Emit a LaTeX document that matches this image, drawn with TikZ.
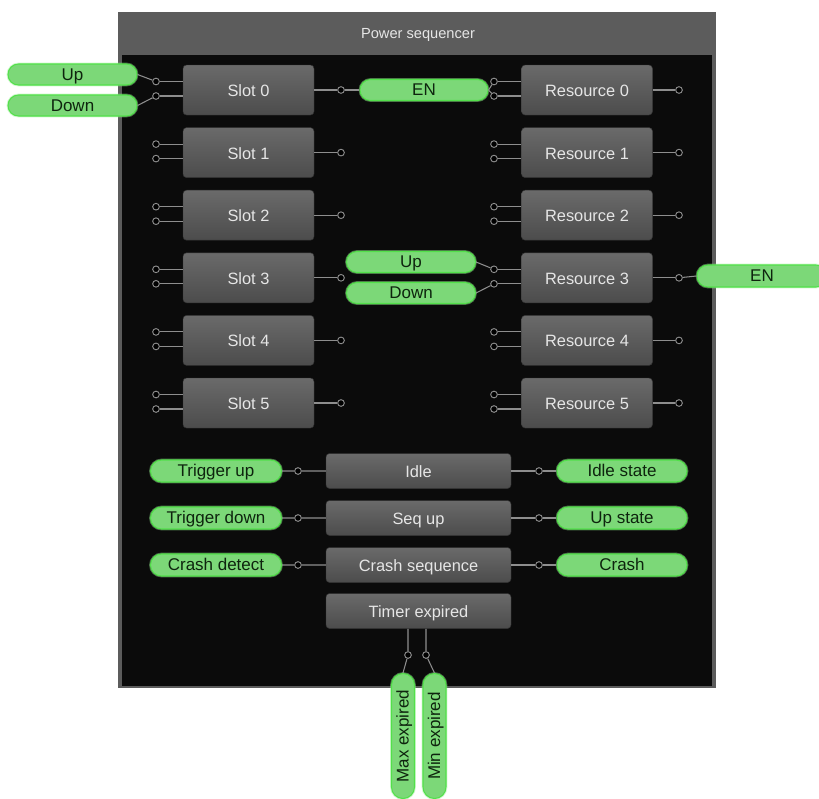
\documentclass[tikz,border=0pt]{standalone}
\usepackage{fontspec}
\setmainfont{Liberation Sans}
\usetikzlibrary{shapes.misc}

\definecolor{framegray}{HTML}{5C5C5C}
\definecolor{panelblack}{HTML}{0B0B0B}
\definecolor{blocktop}{HTML}{6A6A6A}
\definecolor{blockbot}{HTML}{4C4C4C}
\definecolor{blocktext}{HTML}{E6E6E6}
\definecolor{pillfill}{HTML}{7CD878}
\definecolor{pilledge}{HTML}{52E04A}
\definecolor{pilltext}{HTML}{0E240E}
\definecolor{wiregray}{HTML}{8E8E8E}

\begin{document}
\begin{tikzpicture}[x=0.03cm,y=-0.03cm,
    block/.style={draw=black!80,top color=blocktop,bottom color=blockbot,rounded corners=3pt,
      text=blocktext,font=\fontsize{14}{16}\selectfont,text height=2.2ex,text depth=0.1ex},
    slotbox/.style={block,minimum width=3.93cm,minimum height=1.5cm},
    statebox/.style={block,minimum width=5.55cm,minimum height=1.05cm},
    pill/.style={draw=pilledge,line width=0.9pt,fill=pillfill,rounded rectangle,
      preaction={draw=pilledge!60,line width=2.4pt,opacity=0.45},
      text=pilltext,font=\fontsize{14.5}{16}\selectfont,inner sep=0pt,
      text height=2ex,text depth=0.15ex},
    port/.style={circle,draw=wiregray,fill=black,line width=0.8pt,minimum size=0.2cm,inner sep=0pt},
    wire/.style={draw=wiregray,line width=0.9pt}]
  \useasboundingbox (0,0) rectangle (819,798);
  % frame
  \fill[framegray] (118,12) rectangle (716,688);
  \fill[panelblack] (122,55) rectangle (712,686);
  \node[text=blocktext,font=\fontsize{12.5}{15}\selectfont] (title) at (418,35) {Power sequencer};

  % slots and resources
  \foreach \i in {0,...,5} {
    \pgfmathsetmacro\yc{90+62.6*\i}
    \node[slotbox] (slot\i) at (248.5,\yc) {Slot \i};
    \node[slotbox] (res\i) at (587,\yc) {Resource \i};
    \node[port] (sa\i) at (156,\yc-8.5) {};
    \node[port] (sb\i) at (156,\yc+6) {};
    \node[port] (so\i) at (341,\yc) {};
    \node[port] (ra\i) at (494,\yc-8.5) {};
    \node[port] (rb\i) at (494,\yc+6) {};
    \node[port] (ro\i) at (679,\yc) {};
    \draw[wire] (sa\i) -- (sa\i -| slot\i.west);
    \draw[wire] (sb\i) -- (sb\i -| slot\i.west);
    \draw[wire] (slot\i) -- (so\i);
    \draw[wire] (ra\i) -- (ra\i -| res\i.west);
    \draw[wire] (rb\i) -- (rb\i -| res\i.west);
    \draw[wire] (res\i) -- (ro\i);
  }

  % pills around the slots
  \node[pill,minimum width=3.87cm,minimum height=0.63cm] (upin) at (72.5,74.5) {Up};
  \node[pill,minimum width=3.87cm,minimum height=0.63cm] (downin) at (72.5,105.5) {Down};
  \node[pill,minimum width=3.84cm,minimum height=0.63cm] (en) at (424,90) {EN};
  \node[pill,minimum width=3.87cm,minimum height=0.63cm] (upmid) at (411,262) {Up};
  \node[pill,minimum width=3.87cm,minimum height=0.63cm] (downmid) at (411,293) {Down};
  \node[pill,minimum width=3.9cm,minimum height=0.66cm] (enout) at (762,276) {EN};
  \draw[wire] (upin.east) -- (sa0);
  \draw[wire] (downin.east) -- (sb0);
  \draw[wire] (so0) -- (en.west);
  \draw[wire] (en.east) -- (ra0);
  \draw[wire] (en.east) -- (rb0);
  \draw[wire] (upmid.east) -- (ra3);
  \draw[wire] (downmid.east) -- (rb3);
  \draw[wire] (ro3) -- (enout.west);

  % state blocks
  \node[statebox] (idle) at (418.5,471) {Idle};
  \node[statebox] (sequp) at (418.5,518) {Seq up};
  \node[statebox] (crash) at (418.5,565) {Crash sequence};
  \node[statebox] (timer) at (418.5,611) {Timer expired};

  \node[pill,minimum width=3.93cm,minimum height=0.66cm] (trigup) at (216,471) {Trigger up};
  \node[pill,minimum width=3.93cm,minimum height=0.66cm] (trigdown) at (216,518) {Trigger down};
  \node[pill,minimum width=3.93cm,minimum height=0.66cm] (crashdet) at (216,565) {Crash detect};
  \node[pill,minimum width=3.9cm,minimum height=0.66cm] (idlest) at (622,471) {Idle state};
  \node[pill,minimum width=3.9cm,minimum height=0.66cm] (upst) at (622,518) {Up state};
  \node[pill,minimum width=3.9cm,minimum height=0.66cm] (crashout) at (622,565) {Crash};

  \node[port] (pi1) at (298,471) {};
  \node[port] (pi2) at (298,518) {};
  \node[port] (pi3) at (298,565) {};
  \node[port] (po1) at (539,471) {};
  \node[port] (po2) at (539,518) {};
  \node[port] (po3) at (539,565) {};
  \draw[wire] (trigup) -- (pi1) -- (idle);
  \draw[wire] (trigdown) -- (pi2) -- (sequp);
  \draw[wire] (crashdet) -- (pi3) -- (crash);
  \draw[wire] (idle) -- (po1) -- (idlest);
  \draw[wire] (sequp) -- (po2) -- (upst);
  \draw[wire] (crash) -- (po3) -- (crashout);

  % timer outputs
  \node[pill,rotate=90,minimum width=3.75cm,minimum height=0.69cm] (maxexp) at (403,736) {Max expired};
  \node[pill,rotate=90,minimum width=3.75cm,minimum height=0.69cm] (minexp) at (434.5,736) {Min expired};
  \node[port] (tm1) at (408,655) {};
  \node[port] (tm2) at (426,655) {};
  \draw[wire] (timer.south -| tm1) -- (tm1) -- (maxexp.east);
  \draw[wire] (timer.south -| tm2) -- (tm2) -- (minexp.east);
\end{tikzpicture}
\end{document}
